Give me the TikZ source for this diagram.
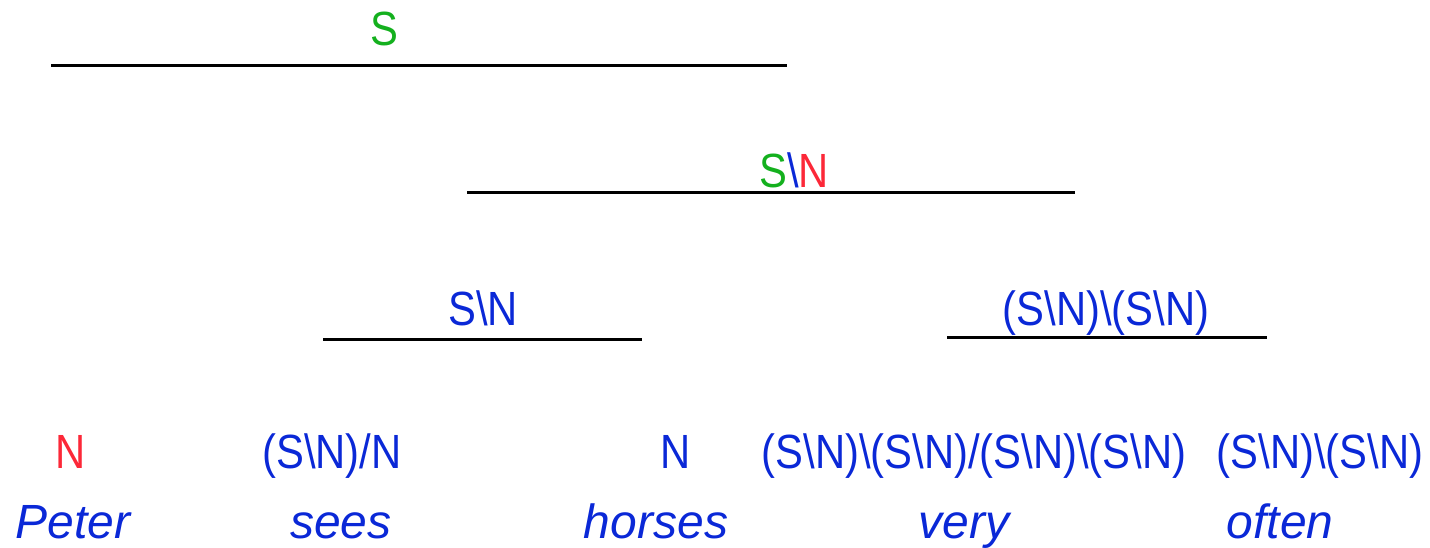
\documentclass[tikz,border=0pt]{standalone}
\usepackage{fontspec}
\setmainfont{Liberation Sans}
\newfontfamily\catfont[FakeStretch=0.87]{Liberation Sans}
\definecolor{cblue}{RGB}{10,40,215}
\definecolor{cred}{RGB}{252,40,56}
\definecolor{cgreen}{RGB}{20,176,30}
\newcommand{\bs}{\textbackslash}
\tikzset{
  cat/.style={inner sep=0pt, anchor=base, font=\catfont\fontsize{48}{56}\selectfont, text=cblue},
  word/.style={inner sep=0pt, anchor=base, font=\fontsize{48}{56}\selectfont\itshape, text=cblue},
  rule/.style={line width=3pt, black}
}
\begin{document}
\begin{tikzpicture}[x=1pt,y=-1pt]
\useasboundingbox (0,0) rectangle (1430,547);
% rules
\coordinate (r1a) at (51,65);  \coordinate (r1b) at (787,65);
\coordinate (r2a) at (467,192); \coordinate (r2b) at (1075,192);
\coordinate (r3a) at (323,339); \coordinate (r3b) at (642,339);
\coordinate (r4a) at (947,337); \coordinate (r4b) at (1267,337);
\draw[rule] (r1a) -- (r1b);
\draw[rule] (r2a) -- (r2b);
\draw[rule] (r3a) -- (r3b);
\draw[rule] (r4a) -- (r4b);
% derived categories
\node[cat, text=cgreen] (s) at (384,45) {S};
\node[cat] (sn2) at (794,187) {\textcolor{cgreen}{S}\textcolor{cblue}{\bs}\textcolor{cred}{N}};
\node[cat] (sn3) at (483,325) {S\bs N};
\node[cat] (adv) at (1106,325) {(S\bs N)\bs(S\bs N)};
% lexical categories
\node[cat, text=cred] (c1) at (71,468) {N};
\node[cat] (c2) at (332,468) {(S\bs N)/N};
\node[cat] (c3) at (676,468) {N};
\node[cat] (c4) at (974,468) {(S\bs N)\bs(S\bs N)/(S\bs N)\bs(S\bs N)};
\node[cat] (c5) at (1320,468) {(S\bs N)\bs(S\bs N)};
% words
\node[word] (w1) at (73,538) {Peter};
\node[word] (w2) at (341,538) {sees};
\node[word] (w3) at (656,538) {horses};
\node[word] (w4) at (964,538) {very};
\node[word] (w5) at (1280,538) {often};
\end{tikzpicture}
\end{document}
